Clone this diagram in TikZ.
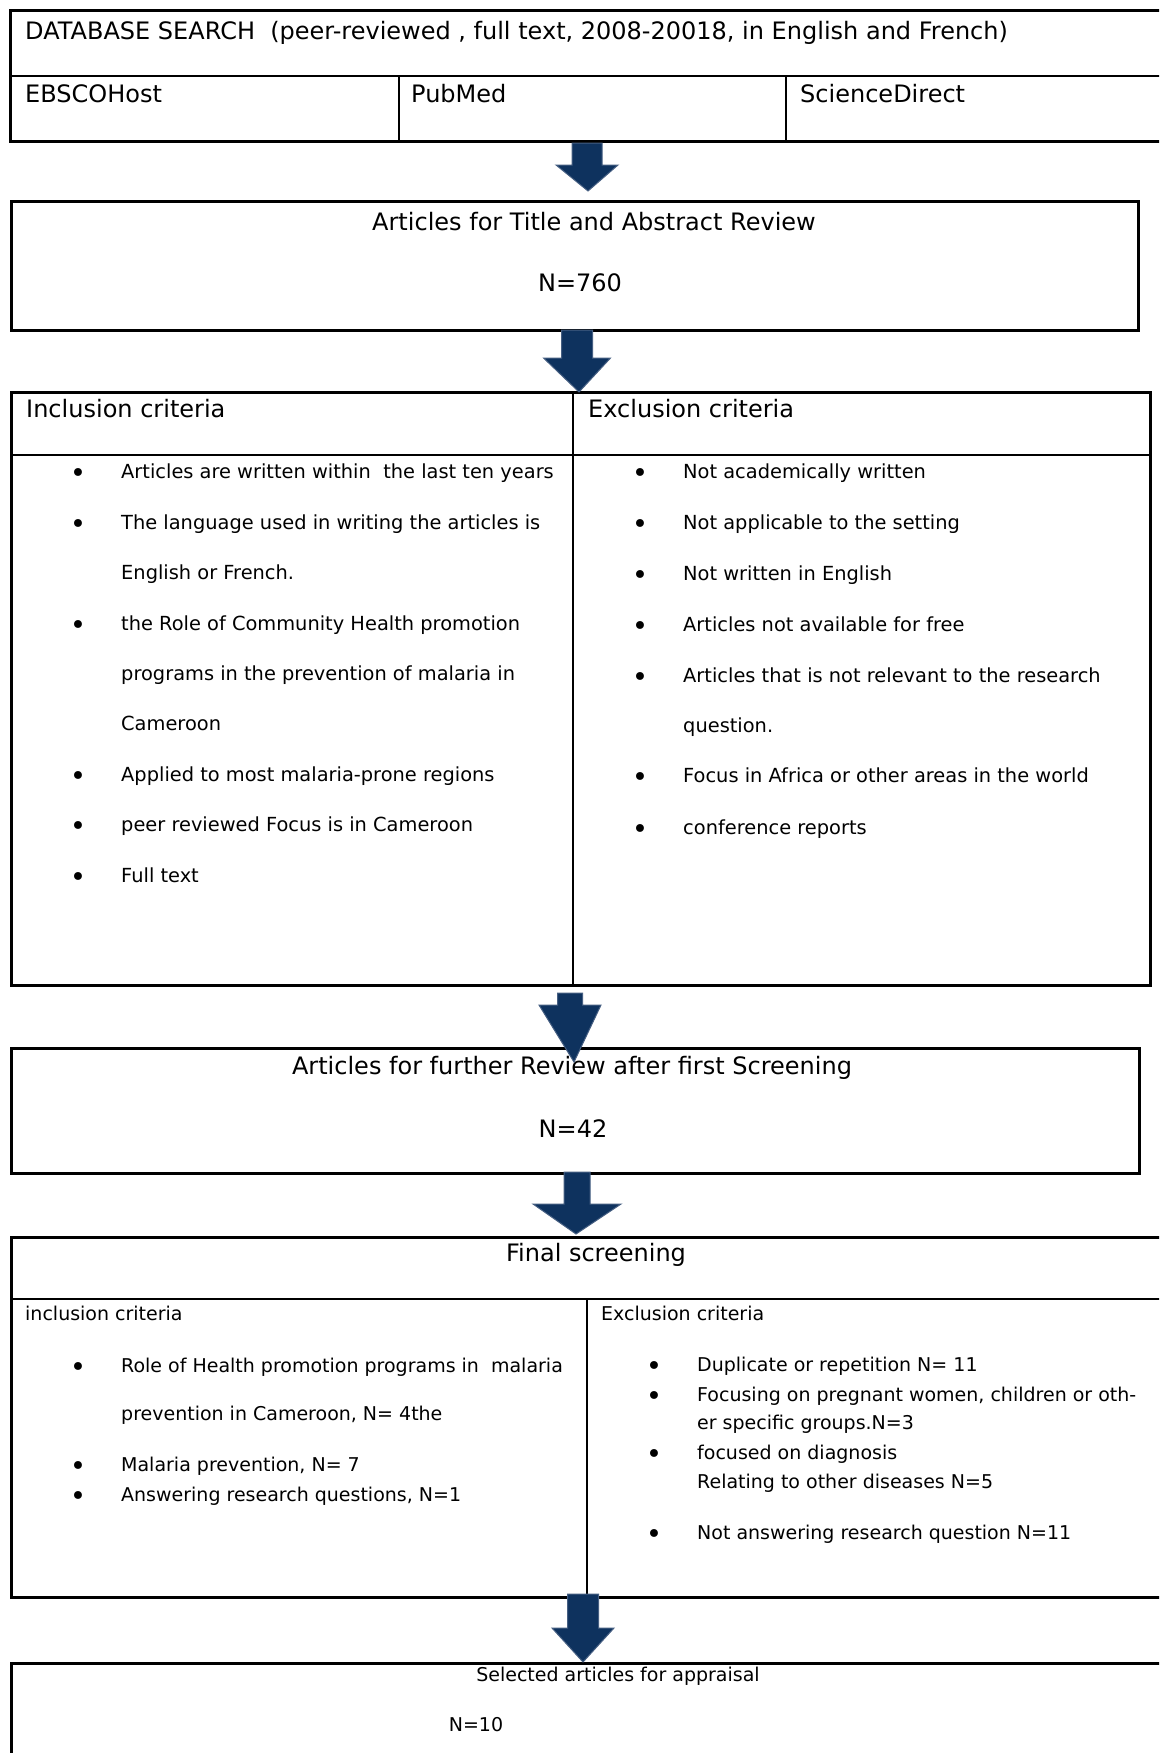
\documentclass[tikz,border=0pt]{standalone}
\usepackage{fontspec}
\setmainfont{DejaVu Sans}
\definecolor{arrowblue}{RGB}{14,50,94}
\definecolor{arrowedge}{RGB}{70,95,130}
\newcommand\blockarrow[7]{%
  \draw[barrow] (#1-#5,#2) -- (#1+#5,#2) -- (#1+#5,#3) -- (#1+#6,#3) -- (#7,#4) -- (#1-#6,#3) -- (#1-#5,#3) -- cycle;}
\begin{document}
\begin{tikzpicture}[x=1pt,y=-1pt,
  frame/.style={draw=black,line width=2.6pt,inner sep=0pt,anchor=north west},
  divider/.style={draw=black,line width=2.2pt},
  thindiv/.style={draw=black,line width=1.7pt},
  hdr/.style={font=\fontsize{24}{28}\selectfont,inner sep=0pt,text height=17pt,text depth=5pt,yshift=-2.5pt},
  hdrw/.style={hdr,anchor=west},
  txt/.style={font=\fontsize{19}{23}\selectfont,inner sep=0pt,anchor=west,text height=14pt,text depth=4pt,yshift=-2.5pt},
  txtb/.style={txt,font=\fontsize{19.4}{23}\selectfont},
  bul/.style={font=\fontsize{19}{23}\selectfont,inner sep=0pt,text height=14pt,text depth=4pt,yshift=-2.5pt},
  dot/.style={font=\fontsize{27}{30}\selectfont,inner sep=0pt,yshift=-5pt},
  barrow/.style={fill=arrowblue,draw=arrowedge,line width=1pt,line join=miter}]
\useasboundingbox (0,0) rectangle (1159,1753);
\clip (0,0) rectangle (1159,1753);
\fill[white] (0,0) rectangle (1159,1753);

% ---------- Box 1 : database search ----------
\node[frame,minimum width=1161pt,minimum height=131pt] (b1) at (9,9) {};
\draw[divider] (9,76) -- (1170,76);
\draw[divider] (399,76) -- (399,140);
\draw[divider] (786,76) -- (786,140);
\node[hdrw] (t1) at (25,31) {DATABASE SEARCH\ \ (peer-reviewed , full text, 2008-20018, in English and French)};
\node[hdrw] (t1a) at (25,94) {EBSCOHost};
\node[hdrw] (t1b) at (411,94) {PubMed};
\node[hdrw] (t1c) at (800,94) {ScienceDirect};

% ---------- Box 2 ----------
\node[frame,minimum width=1127pt,minimum height=129pt] (b2) at (10,200) {};
\node[hdr] (t2) at (594,222) {Articles for Title and Abstract Review};
\node[hdr] (t2n) at (580,283) {N=760};

% ---------- Box 3 ----------
\node[frame,minimum width=1139pt,minimum height=593pt] (b3) at (10,391) {};
\draw[divider] (10,455) -- (1149,455);
\draw[divider] (573,391) -- (573,984);
\node[hdrw] (t3a) at (26,409) {Inclusion criteria};
\node[hdrw] (t3b) at (588,409) {Exclusion criteria};

\foreach \yy/\tx/\b [count=\i] in {
  471/{Articles are written within\ \ the last ten years}/1,
  522/{The language used in writing the articles is}/1,
  572/{English or French.}/0,
  623/{the Role of Community Health promotion}/1,
  673/{programs in the prevention of malaria in}/0,
  723/{Cameroon}/0,
  774/{Applied to most malaria-prone regions}/1,
  824/{peer reviewed Focus is in Cameroon}/1,
  875/{Full text}/1}{
  \node[txtb] (l\i) at (121,\yy) {\tx};
  \ifnum\b=1 \node[dot] (lb\i) at (78,\yy) {\textbullet};\fi
}
\foreach \yy/\tx/\b [count=\i] in {
  471/{Not academically written}/1,
  522/{Not applicable to the setting}/1,
  573/{Not written in English}/1,
  624/{Articles not available for free}/1,
  675/{Articles that is not relevant to the research}/1,
  725/{question.}/0,
  775/{Focus in Africa or other areas in the world}/1,
  827/{conference reports}/1}{
  \node[txtb] (r\i) at (683,\yy) {\tx};
  \ifnum\b=1 \node[dot] (rb\i) at (640,\yy) {\textbullet};\fi
}

% ---------- Box 4 ----------
\node[frame,minimum width=1128pt,minimum height=125pt] (b4) at (10,1047) {};
\node[hdr] (t4) at (572,1066) {Articles for further Review after first Screening};
\node[hdr] (t4n) at (573,1129) {N=42};

% ---------- Box 5 ----------
\node[frame,minimum width=1160pt,minimum height=360pt] (b5) at (10,1236) {};
\draw[divider] (10,1299) -- (1170,1299);
\draw[thindiv] (587,1299) -- (587,1596);
\node[hdr] (t5) at (596,1253) {Final screening};
\node[txt] (t5a) at (25,1313) {inclusion criteria};
\node[txt] (t5b) at (601,1313) {Exclusion criteria};

\foreach \yy/\tx/\b [count=\i] in {
  1365/{Role of Health promotion programs in\ \ malaria}/1,
  1413/{prevention in Cameroon, N= 4the}/0,
  1464/{Malaria prevention, N= 7}/1,
  1494/{Answering research questions, N=1}/1}{
  \node[txt] (fl\i) at (121,\yy) {\tx};
  \ifnum\b=1 \node[dot] (flb\i) at (78,\yy) {\textbullet};\fi
}
\foreach \yy/\tx/\b [count=\i] in {
  1364/{Duplicate or repetition N= 11}/1,
  1394/{Focusing on pregnant women, children or oth-}/1,
  1422/{er specific groups.N=3}/0,
  1452/{focused on diagnosis}/1,
  1481/{Relating to other diseases N=5}/0,
  1532/{Not answering research question N=11}/1}{
  \node[txt] (fr\i) at (697,\yy) {\tx};
  \ifnum\b=1 \node[dot] (frb\i) at (654,\yy) {\textbullet};\fi
}

% ---------- Box 6 ----------
\node[frame,minimum width=1160pt,minimum height=120pt] (b6) at (10,1662) {};
\node[bul] (t6) at (618,1674) {Selected articles for appraisal};
\node[bul] (t6n) at (476,1724) {N=10};

% ---------- block arrows ----------
\blockarrow{587}{143}{165}{191}{15}{31}{588}
\blockarrow{577}{330}{358}{392}{15.5}{33.5}{579}
\blockarrow{570}{993}{1005}{1062}{12.5}{31}{574}
\blockarrow{577}{1172}{1204}{1234}{13}{44}{576}
\blockarrow{583}{1594}{1628}{1662}{15.5}{31}{583}
\end{tikzpicture}
\end{document}
